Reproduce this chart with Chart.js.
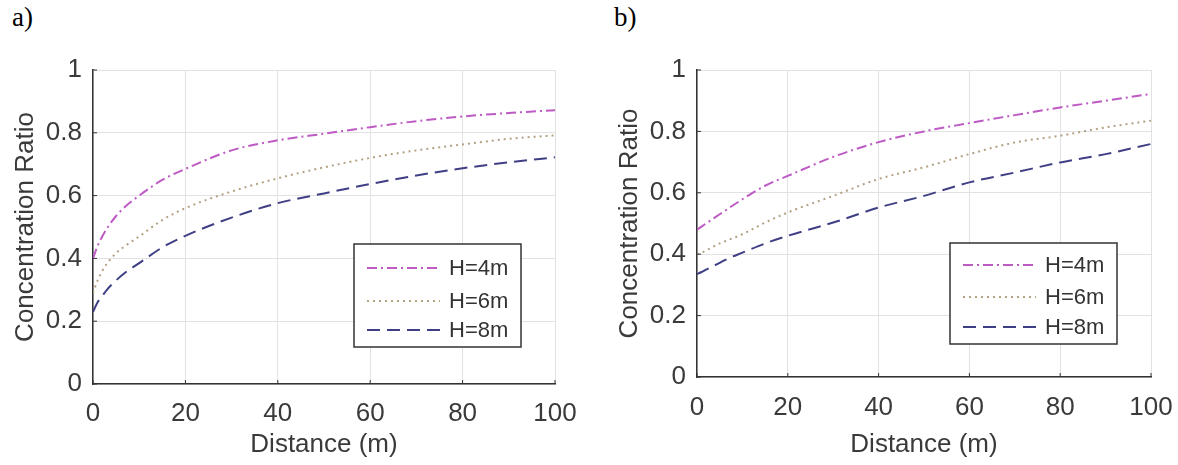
<!DOCTYPE html>
<html>
<head>
<meta charset="utf-8">
<script src="https://cdn.jsdelivr.net/npm/chart.js@4.4.0/dist/chart.umd.min.js"></script>
<style>
  body { margin: 0; background: #fff; width: 1178px; height: 465px; position: relative; overflow: hidden; }
  .lbl { position: absolute; top: 2px; font-family: "Liberation Serif", "DejaVu Serif", serif; font-size: 27px; color: #000; }
  .box { position: absolute; top: 40px; height: 425px; }
</style>
</head>
<body>
<div class="lbl" style="left:12px">a)</div>
<div class="lbl" style="left:614px">b)</div>
<div class="box" style="left:0px;width:580px"><canvas id="chartA"></canvas></div>
<div class="box" style="left:600px;width:578px"><canvas id="chartB"></canvas></div>
<script>
const distances = [0, 1, 2, 3, 5, 7, 10, 15, 20, 30, 40, 50, 60, 70, 80, 90, 100]
const seriesNames = ['H=4m', 'H=6m', 'H=8m']
const yTicks = [0, 0.2, 0.4, 0.6, 0.8, 1]
const xTicks = [0, 20, 40, 60, 80, 100]

// panel a)
const aH4 = [0.40, 0.44, 0.47, 0.495, 0.535, 0.565, 0.60, 0.65, 0.685, 0.744, 0.776, 0.797, 0.818, 0.837, 0.852, 0.863, 0.872]
const aH6 = [0.29, 0.33, 0.36, 0.383, 0.417, 0.44, 0.47, 0.522, 0.56, 0.613, 0.655, 0.69, 0.72, 0.744, 0.763, 0.781, 0.792]
const aH8 = [0.23, 0.26, 0.28, 0.30, 0.33, 0.355, 0.385, 0.435, 0.472, 0.53, 0.576, 0.607, 0.637, 0.664, 0.687, 0.706, 0.722]

// panel b)
const bH4 = [0.48, 0.49, 0.50, 0.51, 0.53, 0.55, 0.579, 0.623, 0.655, 0.717, 0.765, 0.80, 0.827, 0.853, 0.878, 0.90, 0.922]
const bH6 = [0.40, 0.405, 0.412, 0.42, 0.435, 0.447, 0.465, 0.503, 0.536, 0.59, 0.645, 0.683, 0.726, 0.764, 0.786, 0.813, 0.835]
const bH8 = [0.335, 0.342, 0.35, 0.357, 0.372, 0.387, 0.405, 0.435, 0.46, 0.503, 0.552, 0.59, 0.634, 0.666, 0.699, 0.726, 0.759]

const colors = ['#bd5ac4', '#b3a183', '#3f3f85']
const dashes = [[10, 4, 2, 4], [2, 4], [13, 7]]

const legendBox = {
  id: 'legendBox',
  afterDatasetsDraw(chart, args, opts){
    const ctx = chart.ctx
    const area = chart.chartArea
    const w = 167, h = opts.h
    const left = area.right - opts.right - w
    const top = area.bottom - opts.bottom - h
    ctx.save()
    ctx.fillStyle = '#fff'
    ctx.fillRect(left, top, w, h)
    ctx.strokeStyle = '#333'
    ctx.lineWidth = 1.5
    ctx.strokeRect(left, top, w, h)
    chart.data.datasets.forEach((ds, i) => {
      const y = top + opts.rows[i]
      ctx.beginPath()
      ctx.setLineDash(ds.borderDash)
      ctx.strokeStyle = ds.borderColor
      ctx.lineWidth = 2
      ctx.moveTo(left + 13, y)
      ctx.lineTo(left + 86, y)
      ctx.stroke()
      ctx.setLineDash([])
      ctx.fillStyle = '#333'
      ctx.font = '22px "Liberation Sans", Arial, sans-serif'
      ctx.textBaseline = 'middle'
      ctx.fillText(ds.label, left + 95, y + 1)
    })
    ctx.restore()
  }
}

// small inward ticks like the original
const inTicks = {
  id: 'inTicks',
  afterDraw(chart){
    const ctx = chart.ctx
    const x = chart.scales.x, y = chart.scales.y
    ctx.save()
    ctx.strokeStyle = '#333'
    ctx.lineWidth = 1
    xTicks.forEach(v => {
      const px = x.getPixelForValue(v)
      ctx.beginPath(); ctx.moveTo(px, y.bottom); ctx.lineTo(px, y.bottom - 4); ctx.stroke()
    })
    yTicks.forEach(v => {
      const py = y.getPixelForValue(v)
      ctx.beginPath(); ctx.moveTo(x.left, py); ctx.lineTo(x.left + 4, py); ctx.stroke()
    })
    ctx.restore()
  }
}

function makeChart(id, values, cfg){
  const datasets = values.map((vals, i) => ({
    label: seriesNames[i],
    data: distances.map((d, j) => ({x: d, y: vals[j]})),
    borderColor: colors[i],
    borderDash: dashes[i],
    borderWidth: 2,
    pointRadius: 0,
    cubicInterpolationMode: 'monotone',
    fill: false
  }))
  const tickFont = {family: '"Liberation Sans", Arial, sans-serif', size: 26}
  const titleFont = {family: '"Liberation Sans", Arial, sans-serif', size: 26}
  return new Chart(document.getElementById(id), {
    type: 'line',
    data: {datasets: datasets},
    options: {
      responsive: false,
      animation: false,
      layout: {padding: {top: 30, right: cfg.padRight, left: 0, bottom: 0}},
      plugins: {
        legend: {display: false},
        tooltip: {enabled: false},
        legendBox: cfg.legend
      },
      scales: {
        x: {
          type: 'linear', min: 0, max: 100,
          afterBuildTicks: s => { s.ticks = xTicks.map(v => ({value: v})) },
          afterFit: s => { s.height = cfg.xHeight; s.paddingLeft = 0; s.paddingRight = 0 },
          grid: {color: '#e2e2e2', drawTicks: false},
          border: {color: '#333', width: 1.5},
          ticks: {font: tickFont, color: '#3a3a3a', padding: cfg.xTickPad, maxRotation: 0, callback: v => String(v)},
          title: {display: true, text: 'Distance (m)', font: titleFont, color: '#3a3a3a', padding: {top: 0, bottom: cfg.xTitlePad}}
        },
        y: {
          min: 0, max: 1,
          afterBuildTicks: s => { s.ticks = yTicks.map(v => ({value: v})) },
          afterFit: s => { s.width = cfg.yWidth; s.paddingTop = 0; s.paddingBottom = 0 },
          grid: {color: '#e2e2e2', drawTicks: false},
          border: {color: '#333', width: 1.5},
          ticks: {font: tickFont, color: '#3a3a3a', padding: cfg.yTickPad, callback: v => String(v)},
          title: {display: true, text: 'Concentration Ratio', font: titleFont, color: '#3a3a3a', padding: {top: cfg.yTitlePad, bottom: 0}}
        }
      }
    },
    plugins: [legendBox, inTicks]
  })
}

document.getElementById('chartA').width = 580
document.getElementById('chartA').height = 425
document.getElementById('chartB').width = 578
document.getElementById('chartB').height = 425

makeChart('chartA', [aH4, aH6, aH8], {
  padRight: 25, xHeight: 81, yWidth: 93, xTickPad: 14, yTickPad: 11, xTitlePad: 5, yTitlePad: 10,
  legend: {right: 34, bottom: 37, h: 103, rows: [24, 57, 86]}
})
makeChart('chartB', [bH4, bH6, bH8], {
  padRight: 27, xHeight: 88, yWidth: 97, xTickPad: 15, yTickPad: 11, xTitlePad: 5, yTitlePad: 14,
  legend: {right: 34, bottom: 33, h: 101, rows: [22, 54, 84]}
})
</script>
</body>
</html>
